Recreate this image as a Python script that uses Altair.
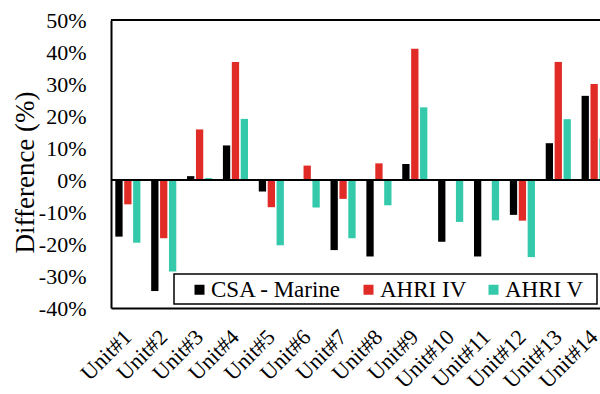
import altair as alt
import pandas as pd

# Units on the x axis and the three rating standards compared
units = [f"Unit#{i}" for i in range(1, 15)]
series = ["CSA - Marine", "AHRI IV", "AHRI V"]

# Difference (%) per unit for each standard
csa_marine = [-17.7, -34.7, 1.2, 10.8, -3.6, 0.0, -21.9, -23.9, 5.0, -19.3, -23.9, -10.9, 11.5, 26.3]
ahri_iv = [-7.6, -18.2, 15.8, 36.9, -8.5, 4.5, -5.9, 5.2, 41.0, 0.0, 0.0, -12.7, 36.9, 30.0]
ahri_v = [-19.6, -28.6, 0.6, 19.1, -20.4, -8.6, -18.2, -7.9, 22.7, -13.1, -12.6, -24.1, 19.0, 13.0]

colors = ["#000000", "#E02B27", "#33C9AA"]
y_ticks = [-40, -30, -20, -10, 0, 10, 20, 30, 40, 50]
FONT = "Liberation Serif"

rows = []
for name, vals in zip(series, [csa_marine, ahri_iv, ahri_v]):
    for u, v in zip(units, vals):
        rows.append({"unit": u, "series": name, "value": v})
df = pd.DataFrame(rows)

y_axis = alt.Axis(
    values=y_ticks,
    labelExpr="datum.value + '%'",
    labelOverlap=False,
    title="Difference (%)",
    titleFont=FONT,
    titleFontSize=27,
    titleFontWeight="normal",
    titleColor="black",
    titleX=-86,
    titleY=152,
    titleAlign="center",
    titleBaseline="middle",
    labelFont=FONT,
    labelFontSize=22,
    labelColor="black",
    labelPadding=25,
    ticks=False,
    domainColor="black",
    domainWidth=2,
)
y_scale = alt.Scale(domain=[-40, 50], nice=False)

bars = alt.Chart(df).mark_bar(clip=True).encode(
    x=alt.X(
        "unit:N",
        sort=units,
        scale=alt.Scale(range=[0, 500], paddingInner=0.3, paddingOuter=0.12),
        axis=alt.Axis(
            title=None,
            labelAngle=-45,
            labelAlign="right",
            labelBaseline="middle",
            labelFont=FONT,
            labelFontSize=22,
            labelColor="black",
            labelPadding=25,
            labelOverlap=False,
            ticks=False,
            domainColor="black",
            domainWidth=2,
        ),
    ),
    xOffset=alt.XOffset(
        "series:N", sort=series, scale=alt.Scale(paddingInner=0.18, paddingOuter=0)
    ),
    y=alt.Y("value:Q", scale=y_scale, axis=y_axis),
    color=alt.Color(
        "series:N",
        scale=alt.Scale(domain=series, range=colors),
        legend=alt.Legend(
            title=None,
            orient="none",
            legendX=77,
            legendY=258,
            direction="horizontal",
            symbolType="square",
            symbolSize=100,
            symbolStrokeWidth=0,
            labelFont=FONT,
            labelFontSize=23,
            labelColor="black",
            labelOffset=0,
            columnPadding=15,
            padding=0,
        ),
    ),
)

# Zero line and top frame line
lines = alt.Chart(pd.DataFrame({"y": [0, 50]})).mark_rule(
    color="black", strokeWidth=2
).encode(y=alt.Y("y:Q", scale=y_scale, axis=y_axis))

# Legend frame
legend_box = alt.Chart(pd.DataFrame({"a": [0]})).mark_rect(
    fill="white", stroke="black", strokeWidth=1.5
).encode(
    x=alt.value(63), x2=alt.value(486), y=alt.value(254), y2=alt.value(284)
)

chart = alt.layer(bars, lines, legend_box).properties(
    width=489,
    height=288,
    autosize=alt.AutoSizeParams(type="none"),
    padding={"left": 111, "top": 20, "right": 0, "bottom": 86},
    background="white",
).configure_view(stroke=None).configure_axis(grid=False)

chart.save("out.html", embed_options={"renderer": "svg", "actions": False})
